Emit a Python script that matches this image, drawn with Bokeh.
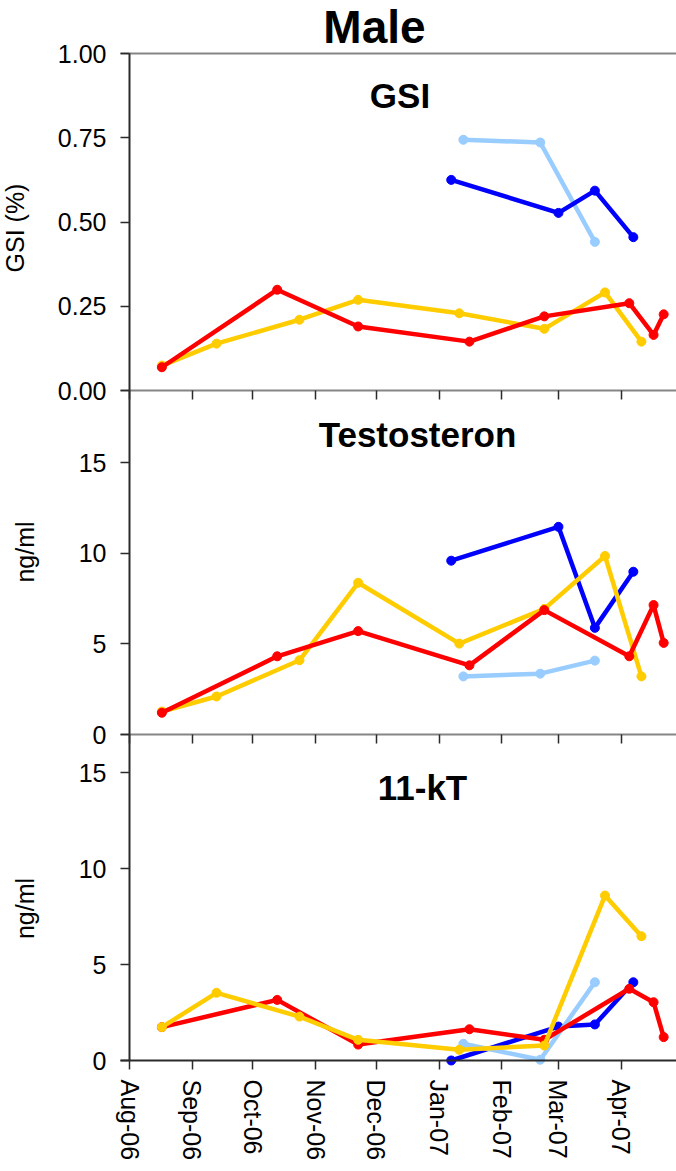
import math
from datetime import datetime, timedelta
from bokeh.plotting import figure
from bokeh.models import (Range1d, FixedTicker, MonthsTicker, DatetimeTickFormatter,
                          NumeralTickFormatter, DatetimeAxis, LinearAxis, Label,
                          CustomJSTickFormatter)
from bokeh.embed import file_html
from bokeh.resources import INLINE

# ---- data ----
red_dates = ["2006-08-17", "2006-10-13", "2006-11-22", "2007-01-16", "2007-02-22", "2007-04-05", "2007-04-17", "2007-04-22"]
yellow_dates = ["2006-08-17", "2006-09-13", "2006-10-24", "2006-11-22", "2007-01-11", "2007-02-22", "2007-03-24", "2007-04-11"]
lightblue_dates = ["2007-01-13", "2007-02-20", "2007-03-19"]
blue_dates = ["2007-01-07", "2007-03-01", "2007-03-19", "2007-04-07"]

gsi_red = [0.069, 0.299, 0.190, 0.145, 0.220, 0.259, 0.165, 0.226]
gsi_yellow = [0.074, 0.139, 0.210, 0.269, 0.229, 0.183, 0.291, 0.145]
gsi_lightblue = [0.744, 0.736, 0.441]
gsi_blue = [0.625, 0.527, 0.593, 0.455]

t_red = [1.20, 4.32, 5.71, 3.82, 6.87, 4.32, 7.15, 5.06]
t_yellow = [1.27, 2.10, 4.10, 8.38, 5.02, 6.94, 9.86, 3.21]
t_lightblue = [3.21, 3.36, 4.08]
t_blue = [9.60, 11.47, 5.89, 8.99]

kt_red = [1.74, 3.16, 0.83, 1.63, 1.08, 3.74, 3.04, 1.22]
kt_yellow = [1.74, 3.53, 2.29, 1.08, 0.56, 0.78, 8.60, 6.48]
kt_lightblue = [0.87, 0.04, 4.08]
kt_blue = [0.00, 1.77, 1.88, 4.08]

gsi_ticks = [0, 0.25, 0.5, 0.75, 1.0]
ng_ticks = [0, 5, 10, 15]
GSI_MAX, T_MAX, KT_MAX = 1.0, 19.0, 17.0

RED, YELLOW, LBLUE, BLUE = "#FF0000", "#FFCC00", "#99CCFF", "#0000FF"
FONT = "Liberation Sans"
GRAY = "#858585"
DARK = "#2b2b2b"

# ---- layout constants (pixels); the frame covers the whole canvas ----
W, H = 676, 1171
Y_GSI1, Y_GSI0, Y_T0, Y_KT0 = 53, 390, 734, 1060   # pixel rows of panel top / zero lines
AXIS_X = 129                                       # pixel column of the date axis origin
TICK = 9

X0 = datetime(2006, 8, 1)
X_END = datetime(2007, 4, 28, 8)
PPD = (W - AXIS_X) / ((X_END - X0).total_seconds() / 86400.0)
X_START = X0 - timedelta(days=AXIS_X / PPD)
LINE_START = X0 - timedelta(days=TICK / PPD)
X0_MS = (X0 - datetime(1970, 1, 1)).total_seconds() * 1000.0


def d(lst):
    return [datetime.strptime(s, "%Y-%m-%d") for s in lst]


def stacked_range(vmax, px_top, px_zero):
    """Range over the full canvas height so that 0..vmax lands between px_zero and px_top."""
    scale = (px_zero - px_top) / vmax
    return Range1d(-(H - px_zero) / scale, vmax + px_top / scale)


p = figure(width=W, height=H, x_axis_type="datetime", title=None,
           x_range=Range1d(X_START, X_END),
           y_range=stacked_range(KT_MAX, Y_T0, Y_KT0),
           output_backend="svg", toolbar_location=None,
           x_axis_location=None, y_axis_location=None,
           min_border_left=0, min_border_right=0, min_border_top=0, min_border_bottom=0)
p.extra_y_ranges = {
    "gsi": stacked_range(GSI_MAX, Y_GSI1, Y_GSI0),
    "testo": stacked_range(T_MAX, Y_GSI0, Y_T0),
}
p.outline_line_color = None
p.background_fill_color = "white"
p.border_fill_color = "white"
for g in p.grid:
    g.visible = False
    g.grid_line_color = None


def y_axis(rname, ticks, vmax, fmt=None):
    kw = dict(ticker=FixedTicker(ticks=ticks), fixed_location=X0_MS, bounds=(0, vmax))
    if rname:
        kw["y_range_name"] = rname
    if fmt:
        kw["formatter"] = fmt
    ax = LinearAxis(**kw)
    ax.axis_line_color = DARK
    ax.axis_line_width = 2
    ax.major_tick_line_color = DARK
    ax.major_tick_line_width = 1.5
    ax.major_tick_out = TICK
    ax.major_tick_in = 0
    ax.minor_tick_line_color = None
    ax.major_label_text_font = FONT
    ax.major_label_text_font_size = "25px"
    ax.major_label_text_color = "black"
    ax.major_label_standoff = 14
    p.add_layout(ax, "left")


y_axis("gsi", gsi_ticks, GSI_MAX, NumeralTickFormatter(format="0.00"))
y_axis("testo", ng_ticks, T_MAX)
y_axis(None, ng_ticks, KT_MAX)

# top frame line of the GSI panel
top_line = DatetimeAxis(y_range_name="gsi", fixed_location=GSI_MAX, ticker=FixedTicker(ticks=[]),
                        bounds=(LINE_START, X_END), formatter=CustomJSTickFormatter(code="return ''"))
top_line.axis_line_color = GRAY
top_line.axis_line_width = 2
top_line.minor_tick_line_color = None
p.add_layout(top_line, "above")

# zero lines of the GSI and Testosteron panels (tick marks, no labels)
for rname in ["gsi", "testo"]:
    ax = DatetimeAxis(y_range_name=rname, fixed_location=0, ticker=MonthsTicker(months=list(range(12))),
                      bounds=(LINE_START, X_END), formatter=CustomJSTickFormatter(code="return ''"))
    ax.axis_line_color = GRAY
    ax.axis_line_width = 2
    ax.major_tick_out = TICK
    ax.major_tick_in = 0
    ax.major_tick_line_color = DARK
    ax.major_tick_line_width = 1.5
    ax.minor_tick_line_color = None
    p.add_layout(ax, "below")

# bottom date axis
xa = DatetimeAxis(fixed_location=0, ticker=MonthsTicker(months=list(range(12))),
                  formatter=DatetimeTickFormatter(months="%b-%y", days="%b-%y"),
                  bounds=(LINE_START, X_END))
xa.axis_line_color = DARK
xa.axis_line_width = 2
xa.major_tick_line_color = DARK
xa.major_tick_line_width = 1.5
xa.major_tick_out = TICK
xa.major_tick_in = 0
xa.minor_tick_line_color = None
xa.major_label_orientation = "vertical"
xa.major_label_text_font = FONT
xa.major_label_text_font_size = "25px"
xa.major_label_text_color = "black"
xa.major_label_standoff = 10
p.add_layout(xa, "below")


def series(dates, vals, color, rname="default"):
    x = d(dates)
    p.line(x, vals, line_color=color, line_width=4.5, line_join="round", y_range_name=rname)
    p.scatter(x, vals, size=9, color=color, y_range_name=rname)


# GSI
series(lightblue_dates, gsi_lightblue, LBLUE, "gsi")
series(blue_dates, gsi_blue, BLUE, "gsi")
series(yellow_dates, gsi_yellow, YELLOW, "gsi")
series(red_dates, gsi_red, RED, "gsi")
# Testosteron
series(lightblue_dates, t_lightblue, LBLUE, "testo")
series(blue_dates, t_blue, BLUE, "testo")
series(yellow_dates, t_yellow, YELLOW, "testo")
series(red_dates, t_red, RED, "testo")
# 11-kT
series(blue_dates, kt_blue, BLUE)
series(lightblue_dates, kt_lightblue, LBLUE)
series(red_dates, kt_red, RED)
series(yellow_dates, kt_yellow, YELLOW)

SHIFT = 0.357  # baseline correction, in em


def text(txt, cx, baseline, size, bold=True):
    p.add_layout(Label(x=cx, y=H - baseline + SHIFT * size, x_units="screen", y_units="screen",
                       text=txt, text_font=FONT, text_font_size=f"{size}px",
                       text_font_style="bold" if bold else "normal",
                       text_align="center", text_baseline="alphabetic", text_color="black"))


def vtext(txt, baseline_x, cy, size):
    p.add_layout(Label(x=baseline_x - SHIFT * size, y=H - cy, x_units="screen", y_units="screen",
                       angle=math.pi / 2, text=txt, text_font=FONT, text_font_size=f"{size}px",
                       text_align="center", text_baseline="alphabetic", text_color="black"))


text("Male", 374, 43, 46)
text("GSI", 399.5, 107, 35)
text("Testosteron", 417, 446.7, 35)
text("11-kT", 422, 799.3, 35)
vtext("GSI (%)", 23, 227.5, 25)
vtext("ng/ml", 33, 551.5, 25)
vtext("ng/ml", 33, 908, 25)

open("out.html", "w").write(file_html(p, INLINE))
